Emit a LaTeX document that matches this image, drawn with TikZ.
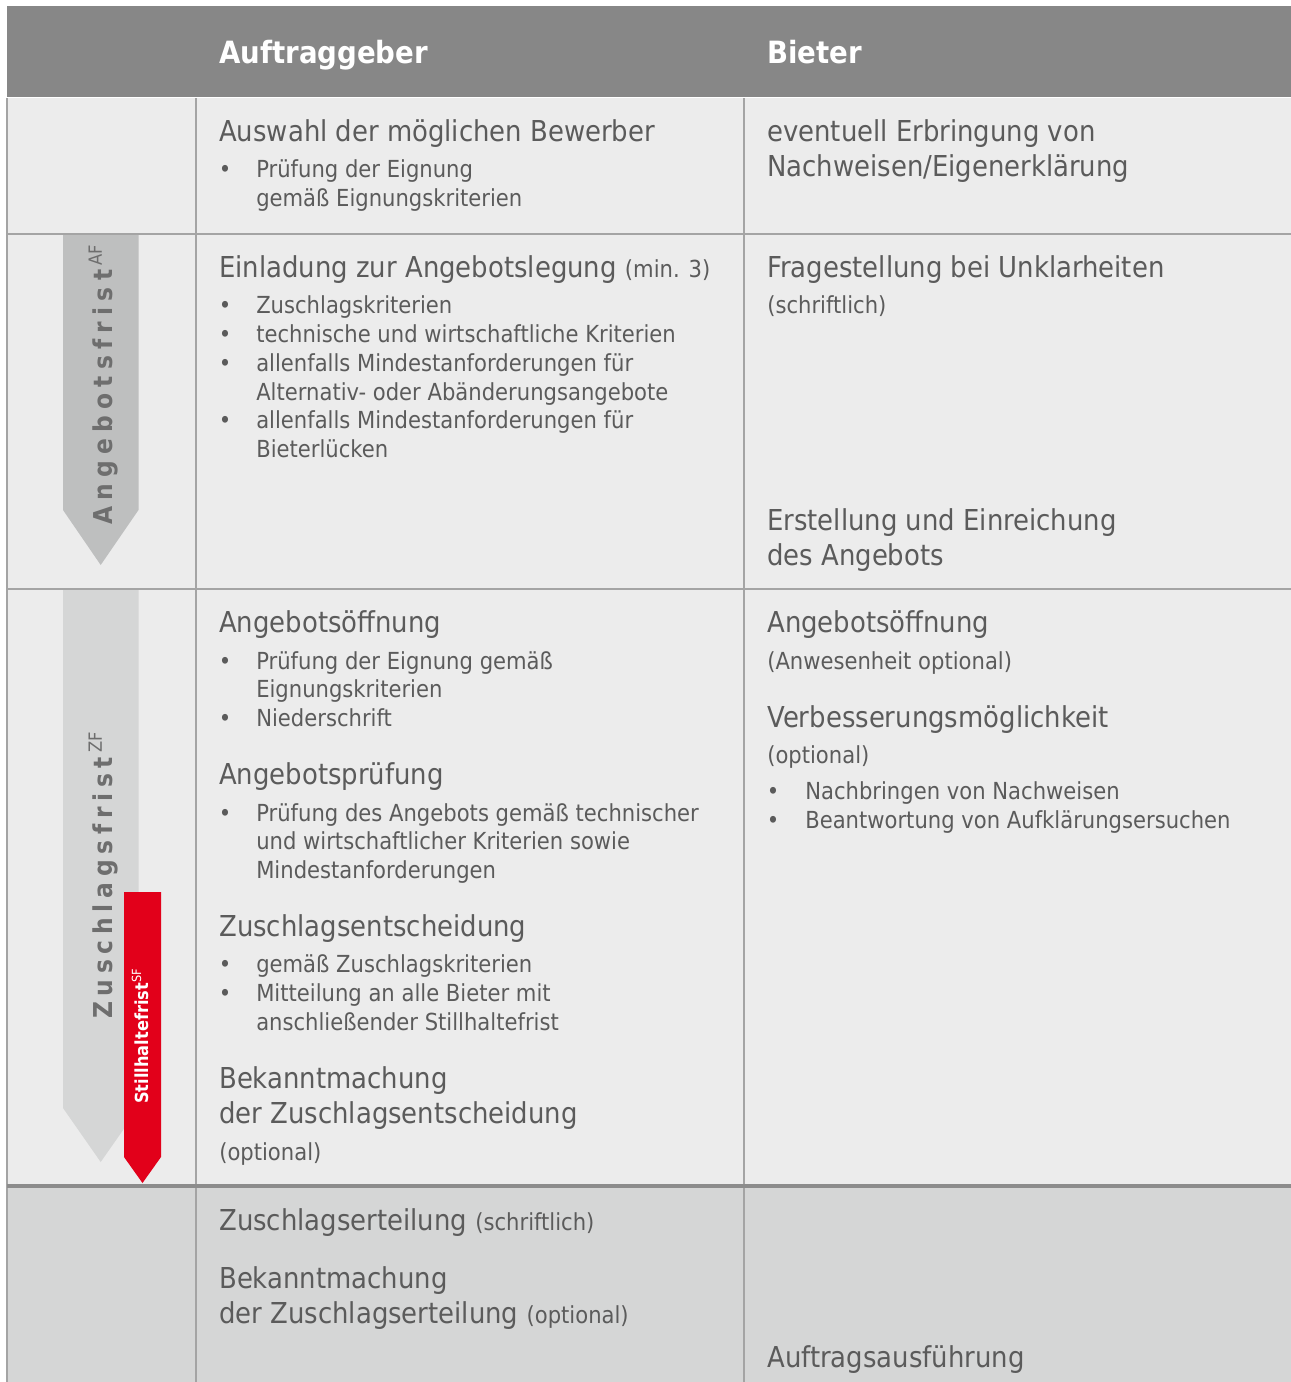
\documentclass[tikz,border=0pt]{standalone}
\usepackage{fontspec}
\setmainfont{DejaVu Sans}[FakeStretch=0.9]
\definecolor{hdrgray}{HTML}{878787}
\definecolor{rowbg}{HTML}{ECECEC}
\definecolor{lastbg}{HTML}{D5D6D6}
\definecolor{rule}{HTML}{A4A4A4}
\definecolor{darkrule}{HTML}{8C8C8C}
\definecolor{txt}{HTML}{5B5B5B}
\definecolor{arrowA}{HTML}{BEBFBF}
\definecolor{arrowZ}{HTML}{D5D6D6}
\definecolor{arrowtxt}{HTML}{6E6E6E}
\definecolor{sfred}{HTML}{E2001A}
\newcommand\hdsize{\fontsize{21.6}{26}\selectfont}
\newcommand\bdsize{\fontsize{17.6}{21}\selectfont}
\newcommand\supnospace[1]{\textsuperscript{\mdseries\addfontfeature{LetterSpace=0}#1}}
\tikzset{
  hd/.style={anchor=base west, inner sep=0pt, text=txt, font=\hdsize},
  bd/.style={anchor=base west, inner sep=0pt, text=txt, font=\bdsize},
  bul/.style={anchor=base, inner sep=0pt, text=txt, font=\bdsize},
  colhead/.style={anchor=base west, inner sep=0pt, text=white, font=\fontsize{23}{27}\selectfont\bfseries},
  gridline/.style={draw=rule, line width=1.5pt},
  vlabel/.style={anchor=base west, inner sep=0pt, rotate=90, text=arrowtxt,
    font=\fontsize{19.5}{24}\selectfont\bfseries\addfontfeature{LetterSpace=24}},
}
\begin{document}
\begin{tikzpicture}[x=0.75pt,y=-0.75pt]
\useasboundingbox (0,0) rectangle (1291,1382);
\fill[white] (0,0) rectangle (1291,1382);
% backgrounds
\fill[hdrgray] (7,6) rectangle (1291,97);
\fill[rowbg] (7,98) rectangle (1291,1186);
\fill[lastbg] (7,1186) rectangle (1291,1382);
% grid
\draw[white, line width=0.8pt] (7,97.5) -- (1291,97.5);
\draw[gridline] (7,98) -- (7,1382);
\draw[gridline] (196,98) -- (196,1382);
\draw[gridline] (744,98) -- (744,1382);
\draw[gridline] (7,233.5) -- (1291,233.5);
\draw[gridline] (7,588.5) -- (1291,588.5);
\draw[draw=darkrule, line width=2.4pt] (7,1186) -- (1291,1186);
% arrows
\fill[arrowA] (63,235) -- (138.5,235) -- (138.5,510) -- (100.7,565) -- (63,510) -- cycle;
\fill[arrowZ] (63,590) -- (138.5,590) -- (138.5,1108) -- (100.7,1162) -- (63,1108) -- cycle;
\fill[sfred] (124,892) -- (161,892) -- (161,1157) -- (142.5,1183) -- (124,1157) -- cycle;
\node[vlabel] (af) at (112,525) {Angebotsfrist\,\supnospace{AF}};
\node[vlabel, font=\fontsize{19.5}{24}\selectfont\bfseries\addfontfeature{LetterSpace=22}] (zf) at (112,1019) {Zuschlagsfrist\,\supnospace{ZF}};
\node[anchor=base west, inner sep=0pt, rotate=90, text=white, font=\fontsize{13.5}{16}\selectfont\bfseries] (sf) at (148,1104) {Stillhaltefrist\textsuperscript{\mdseries SF}};
% header
\node[colhead] (hA) at (219,63) {Auftraggeber};
\node[colhead] (hB) at (767,63) {Bieter};
% row 1
\node[hd] (r1a) at (219,141) {Auswahl der möglichen Bewerber};
\node[bul] (r1b1) at (225,177) {\textbullet};
\node[bd] (r1a1) at (256,177) {Prüfung der Eignung};
\node[bd] (r1a2) at (256,206) {gemäß Eignungskriterien};
\node[hd] (r1b) at (767,141) {eventuell Erbringung von};
\node[hd] (r1c) at (767,176) {Nachweisen/Eigenerklärung};
% row 2
\node[hd] (r2a) at (219,277) {Einladung zur Angebotslegung {\bdsize(min. 3)}};
\node[bul] (r2u1) at (225,313) {\textbullet};
\node[bd] (r2a1) at (256,313) {Zuschlagskriterien};
\node[bul] (r2u2) at (225,342) {\textbullet};
\node[bd] (r2a2) at (256,342) {technische und wirtschaftliche Kriterien};
\node[bul] (r2u3) at (225,371) {\textbullet};
\node[bd] (r2a3) at (256,371) {allenfalls Mindestanforderungen für};
\node[bd] (r2a4) at (256,400) {Alternativ- oder Abänderungsangebote};
\node[bul] (r2u4) at (225,428) {\textbullet};
\node[bd] (r2a5) at (256,428) {allenfalls Mindestanforderungen für};
\node[bd] (r2a6) at (256,457) {Bieterlücken};
\node[hd] (r2b) at (767,277) {Fragestellung bei Unklarheiten};
\node[bd] (r2b1) at (767,313) {(schriftlich)};
\node[hd] (r2c) at (767,530) {Erstellung und Einreichung};
\node[hd] (r2d) at (767,565) {des Angebots};
% row 3 left
\node[hd] (r3a) at (219,632) {Angebotsöffnung};
\node[bul] (r3u1) at (225,669) {\textbullet};
\node[bd] (r3a1) at (256,669) {Prüfung der Eignung gemäß};
\node[bd] (r3a2) at (256,697) {Eignungskriterien};
\node[bul] (r3u2) at (225,726) {\textbullet};
\node[bd] (r3a3) at (256,726) {Niederschrift};
\node[hd] (r3b) at (219,784) {Angebotsprüfung};
\node[bul] (r3u3) at (225,821) {\textbullet};
\node[bd] (r3b1) at (256,821) {Prüfung des Angebots gemäß technischer};
\node[bd] (r3b2) at (256,849) {und wirtschaftlicher Kriterien sowie};
\node[bd] (r3b3) at (256,878) {Mindestanforderungen};
\node[hd] (r3c) at (219,936) {Zuschlagsentscheidung};
\node[bul] (r3u4) at (225,972) {\textbullet};
\node[bd] (r3c1) at (256,972) {gemäß Zuschlagskriterien};
\node[bul] (r3u5) at (225,1001) {\textbullet};
\node[bd] (r3c2) at (256,1001) {Mitteilung an alle Bieter mit};
\node[bd] (r3c3) at (256,1030) {anschließender Stillhaltefrist};
\node[hd] (r3d) at (219,1088) {Bekanntmachung};
\node[hd] (r3e) at (219,1123) {der Zuschlagsentscheidung};
\node[bd] (r3e1) at (219,1160) {(optional)};
% row 3 right
\node[hd] (r3f) at (767,632) {Angebotsöffnung};
\node[bd] (r3f1) at (767,669) {(Anwesenheit optional)};
\node[hd] (r3g) at (767,727) {Verbesserungsmöglichkeit};
\node[bd] (r3g1) at (767,763) {(optional)};
\node[bul] (r3u6) at (773,799) {\textbullet};
\node[bd] (r3g2) at (805,799) {Nachbringen von Nachweisen};
\node[bul] (r3u7) at (773,828) {\textbullet};
\node[bd] (r3g3) at (805,828) {Beantwortung von Aufklärungsersuchen};
% row 4
\node[hd] (r4a) at (219,1230) {Zuschlagserteilung {\bdsize(schriftlich)}};
\node[hd] (r4b) at (219,1288) {Bekanntmachung};
\node[hd] (r4c) at (219,1323) {der Zuschlagserteilung {\bdsize(optional)}};
\node[hd] (r4d) at (767,1367) {Auftragsausführung};
\end{tikzpicture}
\end{document}
